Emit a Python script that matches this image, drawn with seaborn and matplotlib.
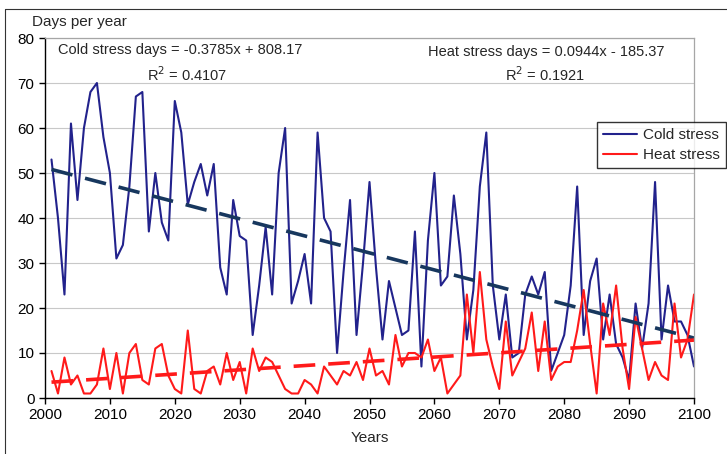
import numpy as np
import pandas as pd
import matplotlib
matplotlib.use("Agg")
import matplotlib.pyplot as plt
import seaborn as sns
from matplotlib.lines import Line2D

# Annual counts, 2001-2100
years = list(range(2001, 2101))
cold_stress = [53, 40, 23, 61, 44, 60, 68, 70, 58, 50,
               31, 34, 47, 67, 68, 37, 50, 39, 35, 66,
               59, 43, 48, 52, 45, 52, 29, 23, 44, 36,
               35, 14, 25, 38, 23, 50, 60, 21, 26, 32,
               21, 59, 40, 37, 10, 28, 44, 14, 30, 48,
               29, 13, 26, 20, 14, 15, 37, 7, 35, 50,
               25, 27, 45, 32, 13, 24, 47, 59, 25, 13,
               23, 9, 10, 23, 27, 23, 28, 6, 10, 14,
               25, 47, 14, 26, 31, 13, 23, 12, 9, 4,
               21, 11, 21, 48, 13, 25, 17, 17, 14, 7]
heat_stress = [6, 1, 9, 3, 5, 1, 1, 3, 11, 2,
               10, 1, 10, 12, 4, 3, 11, 12, 5, 2,
               1, 15, 2, 1, 6, 7, 3, 10, 4, 8,
               1, 11, 6, 9, 8, 5, 2, 1, 1, 4,
               3, 1, 7, 5, 3, 6, 5, 8, 4, 11,
               5, 6, 3, 14, 7, 10, 10, 9, 13, 6,
               9, 1, 3, 5, 23, 10, 28, 13, 7, 2,
               17, 5, 8, 11, 19, 6, 17, 4, 7, 8,
               8, 15, 24, 12, 1, 21, 14, 25, 11, 2,
               18, 11, 4, 8, 5, 4, 21, 9, 13, 23]

# Linear trend coefficients printed on the chart
cold_slope, cold_intercept, cold_r2 = -0.3785, 808.17, 0.4107
heat_slope, heat_intercept, heat_r2 = 0.0944, -185.37, 0.1921

df = pd.DataFrame({"Year": years, "Cold": cold_stress, "Heat": heat_stress})
yrs = np.array(years)
df["ColdTrend"] = cold_slope * yrs + cold_intercept
df["HeatTrend"] = heat_slope * yrs + heat_intercept

sns.set_theme(style="white")
plt.rcParams["font.family"] = ["Liberation Sans", "DejaVu Sans"]

fig = plt.figure(figsize=(7.27, 4.54), dpi=100)
ax = fig.add_axes([45 / 727, 1 - 398 / 454, 649 / 727, 360 / 454])

cold_col = "#22228C"
heat_col = "#FF1A1A"

sns.lineplot(data=df, x="Year", y="Cold", ax=ax, color=cold_col, lw=1.5, label="Cold stress")
sns.lineplot(data=df, x="Year", y="Heat", ax=ax, color=heat_col, lw=1.5, label="Heat stress")
sns.lineplot(data=df, x="Year", y="ColdTrend", ax=ax, color="#17375E", lw=2.6,
             legend=False).lines[-1].set_dashes((6, 3.6))
sns.lineplot(data=df, x="Year", y="HeatTrend", ax=ax, color=heat_col, lw=2.6,
             legend=False).lines[-1].set_dashes((6, 3.6))

ax.set_xlim(2000, 2100)
ax.set_ylim(0, 80)
ax.set_xticks(range(2000, 2101, 10))
ax.set_yticks(range(0, 81, 10))
ax.yaxis.grid(True, color="#C8C8C8", lw=0.8)
ax.set_axisbelow(True)
ax.tick_params(axis="both", labelsize=11, length=4, width=1, direction="out",
               left=True, bottom=True, colors="black")
for s in ["top", "right"]:
    ax.spines[s].set_color("#A6A6A6")
    ax.spines[s].set_linewidth(0.9)
for s in ["left", "bottom"]:
    ax.spines[s].set_color("black")
    ax.spines[s].set_linewidth(1)
ax.set_xlabel("Years", fontsize=11, labelpad=6)
ax.set_ylabel("")

fig.text(32 / 727, 1 - 22 / 454, "Days per year", fontsize=11, ha="left", va="center")

# Trend equations
ax.text((180 - 45) / 649, 1 - (50 - 38) / 360,
        f"Cold stress days = {cold_slope}x + {cold_intercept}",
        transform=ax.transAxes, fontsize=10.5, ha="center", va="center")
ax.text((187 - 45) / 649, 1 - (75 - 38) / 360, f"R$^2$ = {cold_r2}",
        transform=ax.transAxes, fontsize=10.5, ha="center", va="center")
ax.text((546 - 45) / 649, 1 - (52 - 38) / 360,
        f"Heat stress days = {heat_slope}x - {abs(heat_intercept)}",
        transform=ax.transAxes, fontsize=10.5, ha="center", va="center")
ax.text((545 - 45) / 649, 1 - (75 - 38) / 360, f"R$^2$ = {heat_r2}",
        transform=ax.transAxes, fontsize=10.5, ha="center", va="center")

leg = ax.legend(loc="upper left", bbox_to_anchor=(597 / 727, 1 - 122 / 454),
                bbox_transform=fig.transFigure, fontsize=11, frameon=True,
                fancybox=False, edgecolor="black", borderaxespad=0,
                handlelength=2.2, borderpad=0.4, labelspacing=0.4, handletextpad=0.4)
leg.get_frame().set_linewidth(1)

# Outer frame (only top and left edges are visible in the original)
fig.lines.append(Line2D([5 / 727, 1], [1 - 9 / 454, 1 - 9 / 454], transform=fig.transFigure,
                        color="#333333", lw=0.8))
fig.lines.append(Line2D([5 / 727, 5 / 727], [0, 1 - 9 / 454], transform=fig.transFigure,
                        color="#333333", lw=0.8))

fig.savefig("out.png", dpi=100)
